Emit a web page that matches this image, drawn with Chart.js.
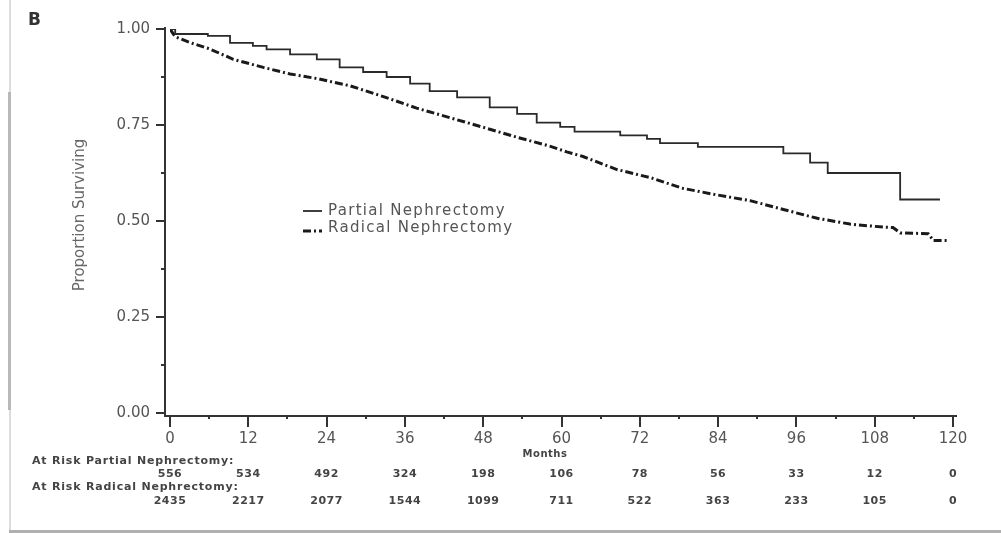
<!DOCTYPE html>
<html>
<head>
<meta charset="utf-8">
<script src="https://cdn.jsdelivr.net/npm/chart.js@4/dist/chart.umd.min.js"></script>
<style>
  html, body { margin: 0; padding: 0; background: #fff; }
  #wrap { position: relative; width: 1001px; height: 533px; }
</style>
</head>
<body>
<div id="wrap"><canvas id="c" width="1001" height="533"></canvas></div>
<script>
// ---- Data ----
const seriesNames = ["Partial Nephrectomy", "Radical Nephrectomy"];
const partialMonths = [0, 0.8, 5.8, 9.2, 12.7, 14.8, 18.4, 22.5, 26, 29.6, 33.2, 36.8, 39.8, 44, 49, 53.2, 56.2, 59.8, 62, 69, 73.1, 75.1, 80.9, 94, 98.1, 100.8, 111.9, 118];
const partialSurv   = [1.0, 0.987, 0.982, 0.964, 0.956, 0.947, 0.934, 0.921, 0.900, 0.888, 0.875, 0.858, 0.838, 0.822, 0.796, 0.779, 0.756, 0.745, 0.733, 0.723, 0.714, 0.703, 0.693, 0.676, 0.652, 0.625, 0.556, 0.556];
const radicalMonths = [0, 0.8, 3, 6.1, 9.7, 14.3, 18.4, 22.5, 27.6, 32.7, 37.8, 42.9, 48, 53.2, 58.2, 60.8, 63.3, 68.5, 73.6, 78.6, 83.8, 88.9, 94, 99.2, 104.2, 109.3, 110.8, 111.9, 116.2, 117, 119.2];
const radicalSurv   = [1.0, 0.980, 0.965, 0.948, 0.921, 0.900, 0.883, 0.871, 0.852, 0.824, 0.794, 0.769, 0.744, 0.718, 0.695, 0.680, 0.668, 0.634, 0.613, 0.585, 0.568, 0.553, 0.530, 0.507, 0.492, 0.484, 0.483, 0.469, 0.467, 0.449, 0.449];
const riskMonths  = [0, 12, 24, 36, 48, 60, 72, 84, 96, 108, 120];
const riskPartial = [556, 534, 492, 324, 198, 106, 78, 56, 33, 12, 0];
const riskRadical = [2435, 2217, 2077, 1544, 1099, 711, 522, 363, 233, 105, 0];
const yTicks = [0, 0.25, 0.5, 0.75, 1.0];
const xTicks = [0, 12, 24, 36, 48, 60, 72, 84, 96, 108, 120];
const panelLabel = "B";
const yTitle = "Proportion Surviving";
const xTitle = "Months";
const riskLabelPartial = "At Risk Partial Nephrectomy:";
const riskLabelRadical = "At Risk Radical Nephrectomy:";

const toPts = (xs, ys) => xs.map((x, i) => ({ x: x, y: ys[i] }));
const FONT = "'DejaVu Sans', sans-serif";

const decor = {
  id: 'decor',
  beforeDraw(chart) {
    const ctx = chart.ctx;
    ctx.save();
    ctx.fillStyle = '#fff';
    ctx.fillRect(0, 0, chart.width, chart.height);
    ctx.fillStyle = '#dcdcdc';
    ctx.fillRect(9, 0, 2, 533);
    ctx.fillStyle = '#b8b8b8';
    ctx.fillRect(8, 92, 3, 318);
    ctx.fillStyle = '#b0b0b0';
    ctx.fillRect(9, 530, 992, 3);
    ctx.restore();
  },
  afterDatasetsDraw(chart) {
    const ctx = chart.ctx;
    const xs = chart.scales.x, ys = chart.scales.y;
    const ax = xs.left - 5, ay = ys.bottom + 3;
    ctx.save();
    ctx.strokeStyle = '#333';
    ctx.lineWidth = 2;
    ctx.beginPath();
    ctx.moveTo(ax, ys.top - 2); ctx.lineTo(ax, ay);
    ctx.lineTo(xs.right + 4, ay);
    ctx.stroke();
    for (let v = 0; v <= 1.0001; v += 0.125) {
      const py = Math.round(ys.getPixelForValue(v));
      const major = Math.abs(v * 4 - Math.round(v * 4)) < 1e-6;
      ctx.beginPath();
      ctx.moveTo(ax, py); ctx.lineTo(ax - (major ? 9 : 4), py);
      ctx.stroke();
    }
    for (let m = 0; m <= 120; m += 6) {
      const px = Math.round(xs.getPixelForValue(m));
      const major = m % 12 === 0;
      ctx.beginPath();
      ctx.moveTo(px, ay); ctx.lineTo(px, ay + (major ? 11 : 3));
      ctx.stroke();
    }
    ctx.restore();
  },
  afterDraw(chart) {
    const ctx = chart.ctx;
    const xs = chart.scales.x;
    const ds = chart.data.datasets;
    ctx.save();
    ctx.fillStyle = '#333';
    ctx.font = "bold 17px " + FONT;
    ctx.textBaseline = 'middle';
    ctx.textAlign = 'left';
    ctx.fillText(panelLabel, 28, 21);
    ctx.save();
    ctx.translate(80, 215);
    ctx.rotate(-Math.PI / 2);
    ctx.fillStyle = '#666';
    ctx.font = "15px " + FONT;
    ctx.textAlign = 'center';
    ctx.fillText(yTitle, 0, 0);
    ctx.restore();
    // legend
    ctx.font = "15px " + FONT;
    ctx.letterSpacing = '1.3px';
    ctx.fillStyle = '#555';
    ctx.textAlign = 'left';
    const legY = [211, 228];
    ds.forEach((d, i) => {
      const ly = legY[i] + (i ? 3 : 0);
      ctx.beginPath();
      ctx.strokeStyle = d.borderColor;
      ctx.lineWidth = d.borderWidth;
      ctx.setLineDash(d.borderDash || []);
      ctx.moveTo(303, ly); ctx.lineTo(322, ly);
      ctx.stroke();
      ctx.setLineDash([]);
      ctx.fillText(d.label, 328, legY[i]);
    });
    // x title
    ctx.letterSpacing = '0.5px';
    ctx.font = "bold 10px " + FONT;
    ctx.fillStyle = '#444';
    ctx.textAlign = 'center';
    ctx.fillText(xTitle, 545, 454);
    // at risk table
    ctx.letterSpacing = '0.8px';
    ctx.textAlign = 'left';
    ctx.font = "bold 11px " + FONT;
    ctx.fillText(riskLabelPartial, 32, 461);
    ctx.fillText(riskLabelRadical, 32, 487);
    ctx.letterSpacing = '0.5px';
    ctx.textAlign = 'center';
    riskMonths.forEach((m, i) => {
      const px = xs.getPixelForValue(m);
      ctx.fillText(String(riskPartial[i]), px, 474);
      ctx.fillText(String(riskRadical[i]), px, 501);
    });
    ctx.restore();
  }
};

new Chart(document.getElementById('c'), {
  type: 'line',
  data: {
    datasets: [
      {
        label: seriesNames[0],
        data: toPts(partialMonths, partialSurv),
        stepped: true,
        borderColor: '#2a2a2a',
        borderWidth: 1.8,
        pointRadius: 0,
        fill: false
      },
      {
        label: seriesNames[1],
        data: toPts(radicalMonths, radicalSurv),
        stepped: false,
        tension: 0,
        borderColor: '#1a1a1a',
        borderWidth: 3,
        borderDash: [8, 3, 2, 3],
        pointRadius: 0,
        fill: false
      }
    ]
  },
  options: {
    responsive: false,
    animation: false,
    devicePixelRatio: 1,
    layout: { padding: { top: 19, right: 48, left: 0, bottom: 0 } },
    plugins: { legend: { display: false }, tooltip: { enabled: false } },
    scales: {
      x: {
        type: 'linear', min: 0, max: 120,
        border: { display: false },
        grid: { display: false, drawTicks: false },
        afterFit(s) { s.height = 120; },
        afterBuildTicks(s) { s.ticks = xTicks.map(v => ({ value: v })); },
        ticks: { color: '#555', font: { family: FONT, size: 15 }, padding: 17, maxRotation: 0, autoSkip: false, callback: v => String(v) }
      },
      y: {
        type: 'linear', min: 0, max: 1,
        border: { display: false },
        grid: { display: false, drawTicks: false },
        afterFit(s) { s.width = 170; },
        afterBuildTicks(s) { s.ticks = yTicks.map(v => ({ value: v })); },
        ticks: { color: '#555', font: { family: FONT, size: 15 }, padding: 20, callback: v => Number(v).toFixed(2) }
      }
    }
  },
  plugins: [decor]
});
</script>
</body>
</html>
